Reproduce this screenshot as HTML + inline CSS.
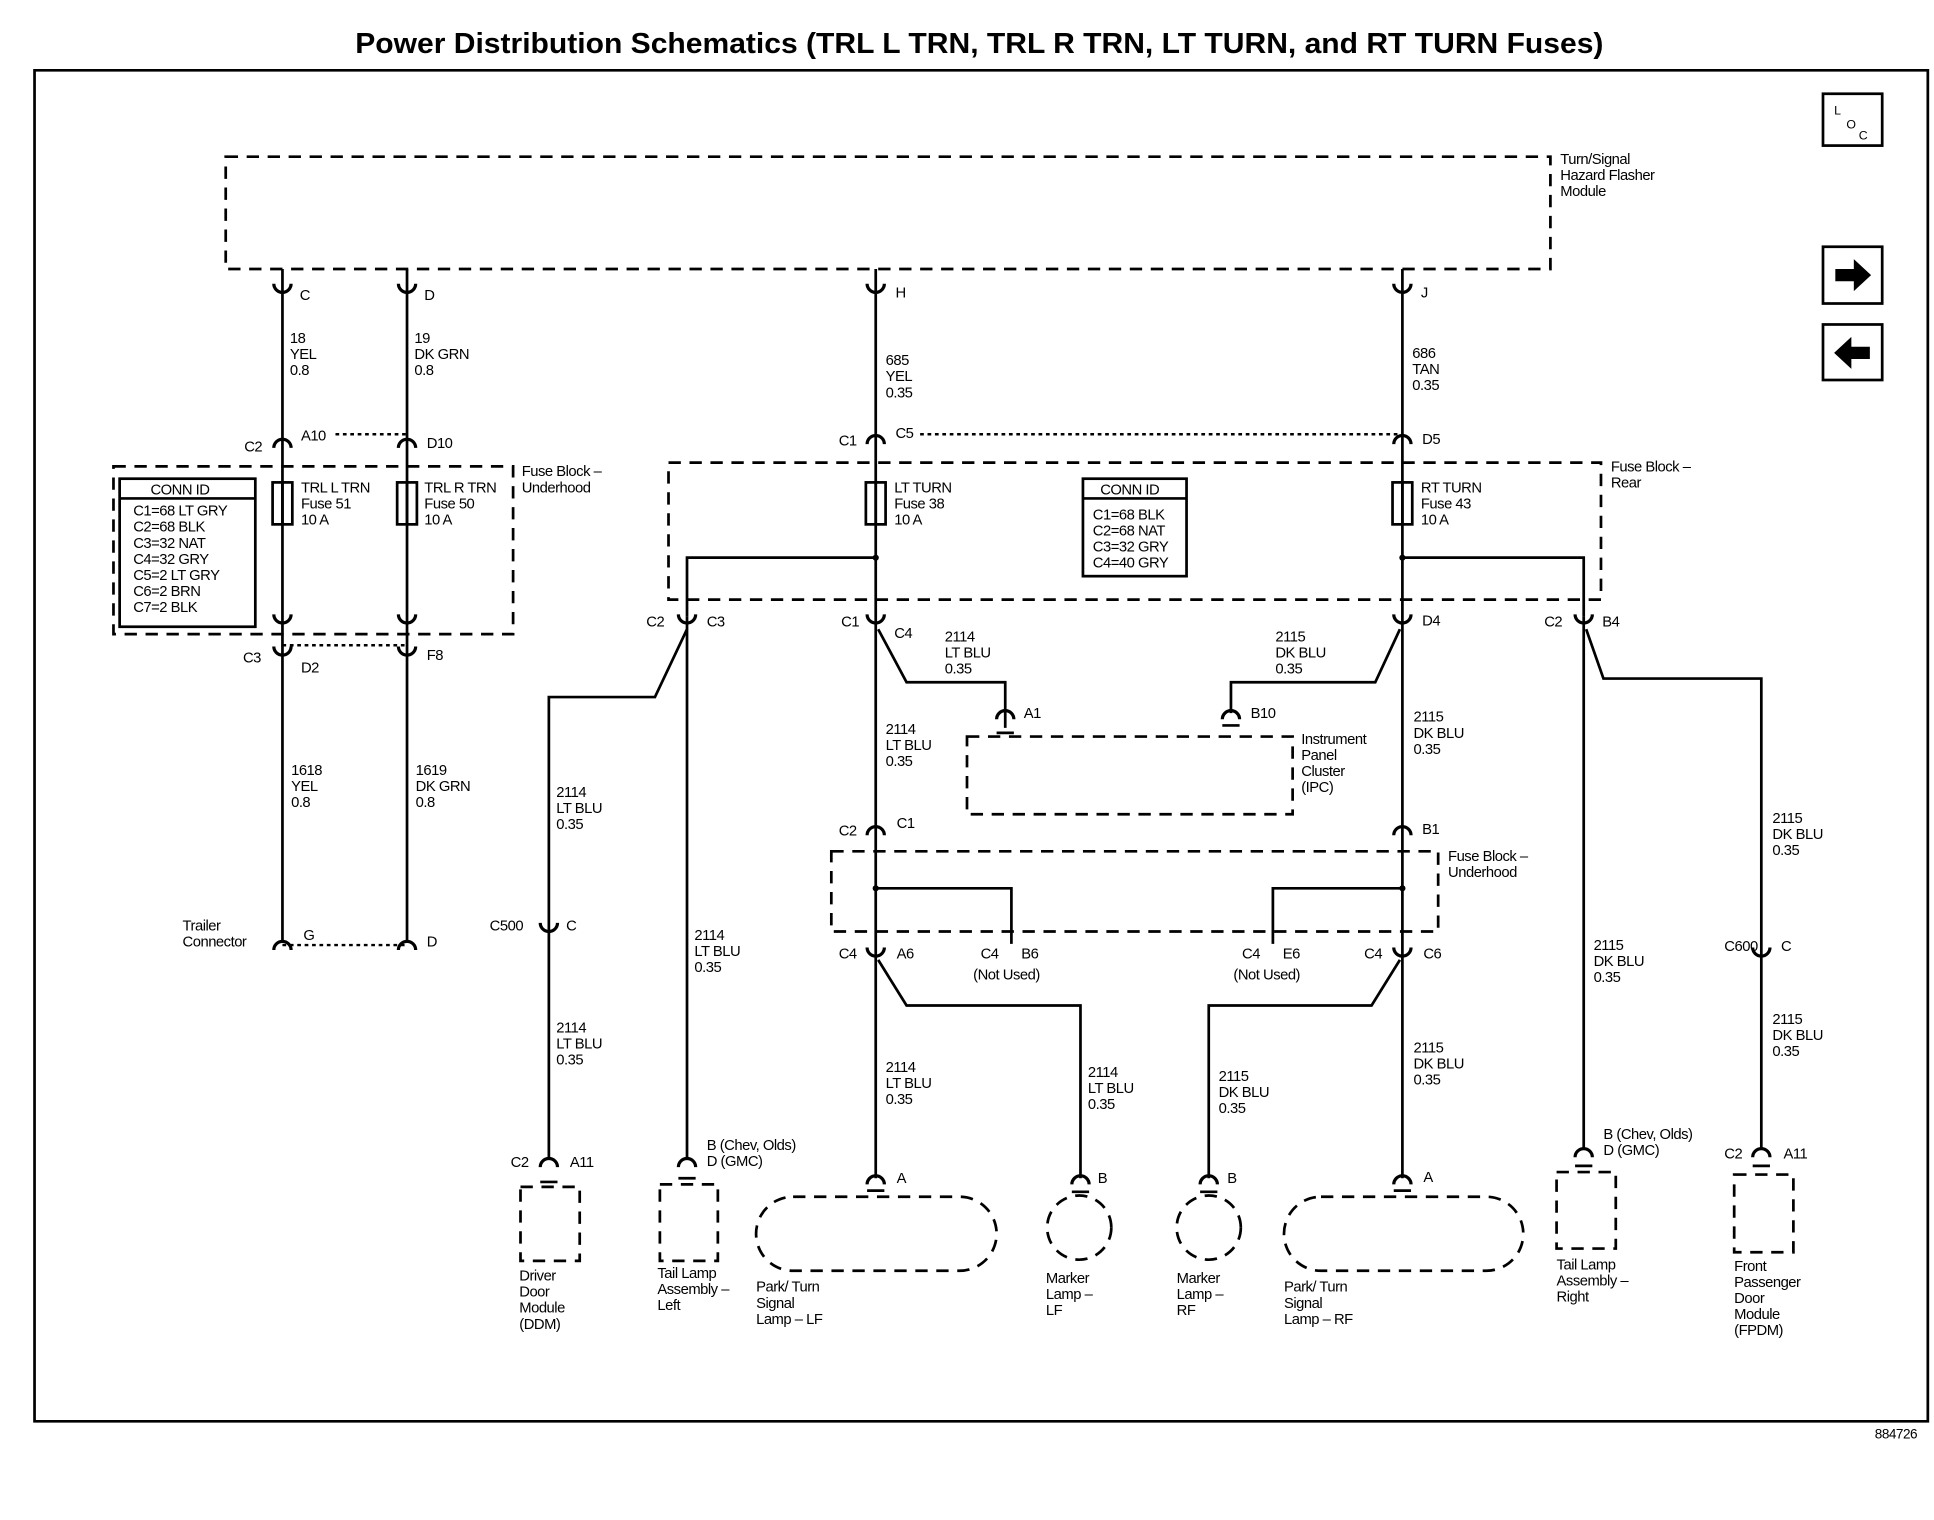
<!DOCTYPE html>
<html><head><meta charset="utf-8"><style>
html,body{margin:0;padding:0;background:#fff;}
svg{display:block;}
text{font-family:"Liberation Sans",sans-serif;font-size:12px;fill:#000;letter-spacing:-0.4px;}
.t{font-size:23px;font-weight:bold;letter-spacing:0;}
.w{stroke:#000;stroke-width:2.2;fill:none;}
.d{stroke:#000;stroke-width:2.2;fill:none;stroke-dasharray:10,7;}
.o{stroke:#000;stroke-width:2;fill:none;stroke-dasharray:3,3;}
.c{stroke:#000;stroke-width:2.6;fill:none;}
</style></head><body>
<svg width="1934" height="1520" viewBox="0 0 1568 1232" preserveAspectRatio="none">
<rect width="1568" height="1232" fill="#fff"/>
<text class="t" x="288" y="43" textLength="1012" lengthAdjust="spacingAndGlyphs">Power Distribution Schematics (TRL L TRN, TRL R TRN, LT TURN, and RT TURN Fuses)</text>
<path class="w" d="M28,1152 V57 H1563 V1152 Z" stroke-width="1.6"/>
<text x="1520" y="1166" style="font-size:11px">884726</text>
<rect x="1478" y="76" width="48" height="42" class="w"/>
<text x="1487" y="93" style="font-size:10px">L</text><text x="1497" y="104" style="font-size:10px">O</text><text x="1507" y="113" style="font-size:10px">C</text>
<rect x="1478" y="200" width="48" height="46" class="w"/>
<path d="M1488,218 H1503 V210 L1517,223 L1503,236 V228 H1488 Z" fill="#000"/>
<rect x="1478" y="263" width="48" height="45" class="w"/>
<path d="M1516,281 H1501 V273 L1487,286 L1501,299 V291 H1516 Z" fill="#000"/>
<rect x="183" y="127" width="1074" height="91" class="d"/>
<text x="1265" y="133">Turn/Signal</text><text x="1265" y="146">Hazard Flasher</text><text x="1265" y="159">Module</text>
<path class="w" d="M229,218 V764 M330,218 V764 M710,218 V955 M1137,218 V955 M557,500 V940 M1284,500 V932"/>
<path class="o" d="M272,352 H330 M229,523 H330 M229,766 H330 M746,352 H1137"/>
<rect x="92" y="378" width="324" height="136" class="d"/>
<rect x="97" y="388" width="110" height="120" class="w" stroke-width="1.6"/>
<path class="w" d="M97,404 H207" stroke-width="1.4"/>
<text x="122" y="401">CONN ID</text>
<text x="108" y="418">C1=68 LT GRY</text><text x="108" y="431">C2=68 BLK</text><text x="108" y="444">C3=32 NAT</text><text x="108" y="457">C4=32 GRY</text><text x="108" y="470">C5=2 LT GRY</text><text x="108" y="483">C6=2 BRN</text><text x="108" y="496">C7=2 BLK</text>
<text x="423" y="386">Fuse Block –</text><text x="423" y="399">Underhood</text>
<rect x="221" y="391" width="16" height="34" fill="#fff" class="w"/><rect x="322" y="391" width="16" height="34" fill="#fff" class="w"/>
<path class="w" d="M229,391 V425 M330,391 V425" stroke-width="1.4"/>
<text x="244" y="399">TRL L TRN</text><text x="244" y="412">Fuse 51</text><text x="244" y="425">10 A</text>
<text x="344" y="399">TRL R TRN</text><text x="344" y="412">Fuse 50</text><text x="344" y="425">10 A</text>
<rect x="542" y="375" width="756" height="111" class="d"/>
<text x="1306" y="382">Fuse Block –</text><text x="1306" y="395">Rear</text>
<rect x="702" y="391" width="16" height="34" fill="#fff" class="w"/><rect x="1129" y="391" width="16" height="34" fill="#fff" class="w"/>
<path class="w" d="M710,391 V425 M1137,391 V425" stroke-width="1.4"/>
<text x="725" y="399">LT TURN</text><text x="725" y="412">Fuse 38</text><text x="725" y="425">10 A</text>
<text x="1152" y="399">RT TURN</text><text x="1152" y="412">Fuse 43</text><text x="1152" y="425">10 A</text>
<rect x="878" y="388" width="84" height="79" class="w" stroke-width="1.6"/>
<path class="w" d="M878,404 H962" stroke-width="1.4"/>
<text x="892" y="401">CONN ID</text>
<text x="886" y="421">C1=68 BLK</text><text x="886" y="434">C2=68 NAT</text><text x="886" y="447">C3=32 GRY</text><text x="886" y="460">C4=40 GRY</text>
<path class="w" d="M557,500 V452 H710 M1137,452 H1284 V500"/>
<circle cx="710" cy="452" r="2.5"/><circle cx="1137" cy="452" r="2.5"/>
<path class="w" d="M557,510 L531,565 H445 V940"/>
<path class="w" d="M712,510 L735,553 H815 V590"/>
<path class="w" d="M1135,510 L1115,553 H998 V578"/>
<rect x="784" y="597" width="264" height="63" class="d"/>
<text x="1055" y="603">Instrument</text><text x="1055" y="616">Panel</text><text x="1055" y="629">Cluster</text><text x="1055" y="642">(IPC)</text>
<rect x="674" y="690" width="492" height="65" class="d"/>
<text x="1174" y="698">Fuse Block –</text><text x="1174" y="711">Underhood</text>
<path class="w" d="M710,720 H820 V765 M1137,720 H1032 V765"/>
<circle cx="710" cy="720" r="2.5"/><circle cx="1137" cy="720" r="2.5"/>
<path class="w" d="M712,778 L735,815 H876 V955"/>
<path class="w" d="M1135,778 L1112,815 H980 V955"/>
<path class="w" d="M1286,510 L1300,550 H1428 V932"/>
<g class="c">
<path d="M222,230 A7,7 0 0 0 236,230 M323,230 A7,7 0 0 0 337,230 M703,230 A7,7 0 0 0 717,230 M1130,230 A7,7 0 0 0 1144,230"/>
<path d="M222,363 A7,7 0 0 1 236,363 M323,363 A7,7 0 0 1 337,363 M703,360 A7,7 0 0 1 717,360 M1130,360 A7,7 0 0 1 1144,360"/>
<path d="M222,498 A7,7 0 0 0 236,498 M323,498 A7,7 0 0 0 337,498"/>
<path d="M222,524 A7,7 0 0 0 236,524 M323,524 A7,7 0 0 0 337,524"/>
<path d="M550,498 A7,7 0 0 0 564,498 M703,498 A7,7 0 0 0 717,498 M1130,498 A7,7 0 0 0 1144,498 M1277,498 A7,7 0 0 0 1291,498"/>
<path d="M808,583 A7,7 0 0 1 822,583 M991,583 A7,7 0 0 1 1005,583"/>
<path d="M703,677 A7,7 0 0 1 717,677 M1130,677 A7,7 0 0 1 1144,677"/>
<path d="M703,768 A7,7 0 0 0 717,768 M1130,768 A7,7 0 0 0 1144,768"/>
<path d="M222,770 A7,7 0 0 1 236,770 M323,770 A7,7 0 0 1 337,770 M438,748 A7,7 0 0 0 452,748 M1421,768 A7,7 0 0 0 1435,768"/>
<path d="M438,946 A7,7 0 0 1 452,946 M550,946 A7,7 0 0 1 564,946 M703,960 A7,7 0 0 1 717,960 M869,960 A7,7 0 0 1 883,960 M973,960 A7,7 0 0 1 987,960 M1130,960 A7,7 0 0 1 1144,960 M1277,938 A7,7 0 0 1 1291,938 M1421,938 A7,7 0 0 1 1435,938"/>
</g>
<path class="w" d="M808,594 H822 M991,588 H1005 M438,958 H452 M550,955 H564 M703,965 H717 M869,966 H883 M973,966 H987 M1130,965 H1144 M1277,945 H1291 M1421,945 H1435"/>
<rect x="422" y="962" width="48" height="60" class="d"/>
<rect x="535" y="960" width="47" height="62" class="d"/>
<rect x="613" y="970" width="195" height="60" rx="30" class="d"/>
<circle cx="875" cy="995" r="26" class="d"/>
<circle cx="980" cy="995" r="26" class="d"/>
<rect x="1041" y="970" width="194" height="60" rx="30" class="d"/>
<rect x="1262" y="950" width="48" height="62" class="d"/>
<rect x="1406" y="952" width="48" height="63" class="d"/>
<text x="243" y="243">C</text><text x="344" y="243">D</text><text x="726" y="241">H</text><text x="1152" y="241">J</text>
<text x="235" y="278">18</text><text x="235" y="291">YEL</text><text x="235" y="304">0.8</text>
<text x="336" y="278">19</text><text x="336" y="291">DK GRN</text><text x="336" y="304">0.8</text>
<text x="718" y="296">685</text><text x="718" y="309">YEL</text><text x="718" y="322">0.35</text>
<text x="1145" y="290">686</text><text x="1145" y="303">TAN</text><text x="1145" y="316">0.35</text>
<text x="198" y="366">C2</text><text x="244" y="357">A10</text><text x="346" y="363">D10</text>
<text x="680" y="361">C1</text><text x="726" y="355">C5</text><text x="1153" y="360">D5</text>
<text x="197" y="537">C3</text><text x="244" y="545">D2</text><text x="346" y="535">F8</text>
<text x="524" y="508">C2</text><text x="573" y="508">C3</text>
<text x="682" y="508">C1</text><text x="725" y="517">C4</text>
<text x="1153" y="507">D4</text>
<text x="1252" y="508">C2</text><text x="1299" y="508">B4</text>
<text x="766" y="520">2114</text><text x="766" y="533">LT BLU</text><text x="766" y="546">0.35</text>
<text x="1034" y="520">2115</text><text x="1034" y="533">DK BLU</text><text x="1034" y="546">0.35</text>
<text x="830" y="582">A1</text><text x="1014" y="582">B10</text>
<text x="718" y="595">2114</text><text x="718" y="608">LT BLU</text><text x="718" y="621">0.35</text>
<text x="1146" y="585">2115</text><text x="1146" y="598">DK BLU</text><text x="1146" y="611">0.35</text>
<text x="236" y="628">1618</text><text x="236" y="641">YEL</text><text x="236" y="654">0.8</text>
<text x="337" y="628">1619</text><text x="337" y="641">DK GRN</text><text x="337" y="654">0.8</text>
<text x="451" y="646">2114</text><text x="451" y="659">LT BLU</text><text x="451" y="672">0.35</text>
<text x="680" y="677">C2</text><text x="727" y="671">C1</text><text x="1153" y="676">B1</text>
<text x="1437" y="667">2115</text><text x="1437" y="680">DK BLU</text><text x="1437" y="693">0.35</text>
<text x="148" y="754">Trailer</text><text x="148" y="767">Connector</text>
<text x="246" y="762">G</text><text x="346" y="767">D</text>
<text x="397" y="754">C500</text><text x="459" y="754">C</text>
<text x="563" y="762">2114</text><text x="563" y="775">LT BLU</text><text x="563" y="788">0.35</text>
<text x="680" y="777">C4</text><text x="727" y="777">A6</text>
<text x="795" y="777">C4</text><text x="828" y="777">B6</text><text x="789" y="794">(Not Used)</text>
<text x="1007" y="777">C4</text><text x="1040" y="777">E6</text><text x="1000" y="794">(Not Used)</text>
<text x="1106" y="777">C4</text><text x="1154" y="777">C6</text>
<text x="1292" y="770">2115</text><text x="1292" y="783">DK BLU</text><text x="1292" y="796">0.35</text>
<text x="1398" y="771">C600</text><text x="1444" y="771">C</text>
<text x="451" y="837">2114</text><text x="451" y="850">LT BLU</text><text x="451" y="863">0.35</text>
<text x="1437" y="830">2115</text><text x="1437" y="843">DK BLU</text><text x="1437" y="856">0.35</text>
<text x="1146" y="853">2115</text><text x="1146" y="866">DK BLU</text><text x="1146" y="879">0.35</text>
<text x="718" y="869">2114</text><text x="718" y="882">LT BLU</text><text x="718" y="895">0.35</text>
<text x="882" y="873">2114</text><text x="882" y="886">LT BLU</text><text x="882" y="899">0.35</text>
<text x="988" y="876">2115</text><text x="988" y="889">DK BLU</text><text x="988" y="902">0.35</text>
<text x="573" y="932">B (Chev, Olds)</text><text x="573" y="945">D (GMC)</text>
<text x="1300" y="923">B (Chev, Olds)</text><text x="1300" y="936">D (GMC)</text>
<text x="414" y="946">C2</text><text x="462" y="946">A11</text>
<text x="1398" y="939">C2</text><text x="1446" y="939">A11</text>
<text x="727" y="959">A</text><text x="890" y="959">B</text><text x="995" y="959">B</text><text x="1154" y="958">A</text>
<text x="421" y="1038">Driver</text><text x="421" y="1051">Door</text><text x="421" y="1064">Module</text><text x="421" y="1077">(DDM)</text>
<text x="533" y="1036">Tail Lamp</text><text x="533" y="1049">Assembly –</text><text x="533" y="1062">Left</text>
<text x="613" y="1047">Park/ Turn</text><text x="613" y="1060">Signal</text><text x="613" y="1073">Lamp – LF</text>
<text x="848" y="1040">Marker</text><text x="848" y="1053">Lamp –</text><text x="848" y="1066">LF</text>
<text x="954" y="1040">Marker</text><text x="954" y="1053">Lamp –</text><text x="954" y="1066">RF</text>
<text x="1041" y="1047">Park/ Turn</text><text x="1041" y="1060">Signal</text><text x="1041" y="1073">Lamp – RF</text>
<text x="1262" y="1029">Tail Lamp</text><text x="1262" y="1042">Assembly –</text><text x="1262" y="1055">Right</text>
<text x="1406" y="1030">Front</text><text x="1406" y="1043">Passenger</text><text x="1406" y="1056">Door</text><text x="1406" y="1069">Module</text><text x="1406" y="1082">(FPDM)</text>
</svg>
</body></html>
